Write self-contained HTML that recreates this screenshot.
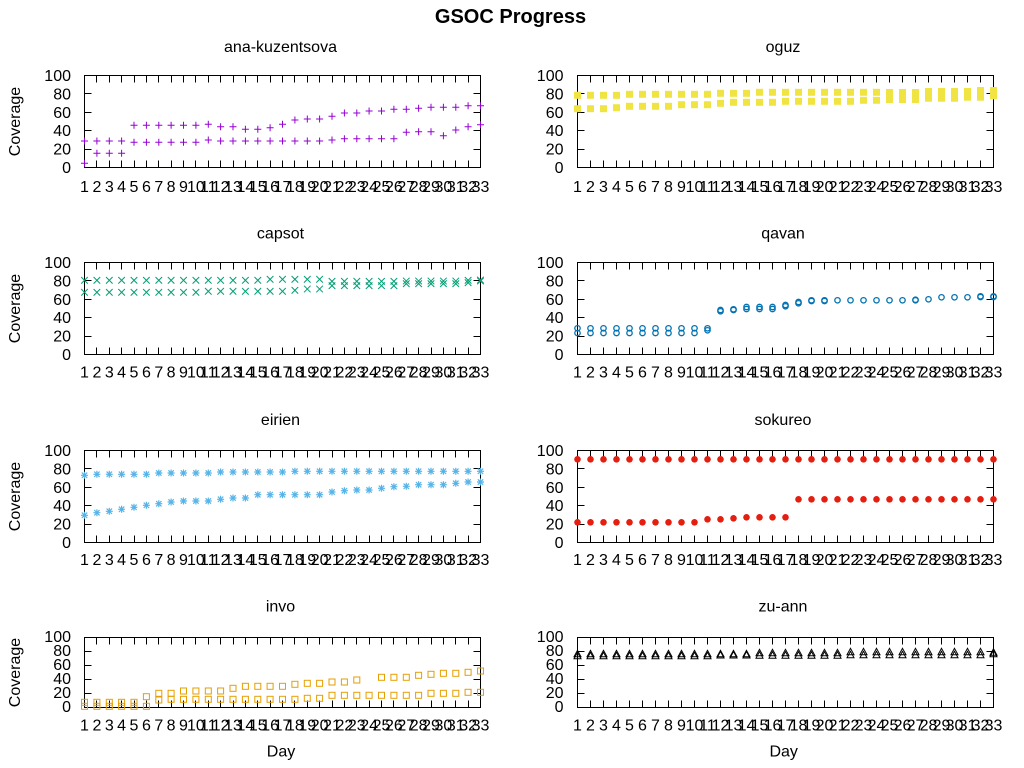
<!DOCTYPE html>
<html><head><meta charset="utf-8"><style>
html,body{margin:0;padding:0;background:#fff;}
svg{display:block;}
text{font-family:"Liberation Sans",sans-serif;font-size:16px;fill:#000;}
.xl text{text-anchor:middle;}
.yl text{text-anchor:end;}
.tt{text-anchor:middle;}
</style></head><body>
<svg width="1024" height="768" viewBox="0 0 1024 768" xmlns="http://www.w3.org/2000/svg">
<defs>
<path id="p" d="M-3.5 0H3.5M0-3.5V3.5"/>
<path id="x" d="M-3.3-3.3L3.3 3.3M-3.3 3.3L3.3-3.3"/>
<path id="s" d="M-3.5 0H3.5M0-3.5V3.5M-2.7-2.7L2.7 2.7M-2.7 2.7L2.7-2.7"/>
<rect id="q" x="-3.5" y="-3.5" width="7" height="7"/>
<circle id="c" r="2.7"/>
<circle id="f" r="3.3"/>
<rect id="b" x="-3" y="-3" width="6" height="6"/>
<path id="t" d="M0-4L3.5 2.5H-3.5Z"/>
</defs>
<rect width="1024" height="768" fill="#fff"/>
<text x="510.5" y="23" class="tt" style="font-weight:bold;font-size:20px">GSOC Progress</text>

<text x="280.5" y="52" class="tt">ana-kuzentsova</text>
<text x="783" y="52" class="tt">oguz</text>
<text x="280.5" y="238.5" class="tt">capsot</text>
<text x="783" y="238.5" class="tt">qavan</text>
<text x="280.5" y="425" class="tt">eirien</text>
<text x="783" y="425" class="tt">sokureo</text>
<text x="280.5" y="611.7" class="tt">invo</text>
<text x="783" y="611.7" class="tt">zu-ann</text>

<text transform="translate(20,121.5) rotate(-90)" class="tt">Coverage</text>
<text transform="translate(20,308.5) rotate(-90)" class="tt">Coverage</text>
<text transform="translate(20,496.5) rotate(-90)" class="tt">Coverage</text>
<text transform="translate(20,672.5) rotate(-90)" class="tt">Coverage</text>
<text x="281" y="756.5" class="tt">Day</text>
<text x="783.7" y="756.5" class="tt">Day</text>

<rect x="84.5" y="75.5" width="396" height="92" fill="none" stroke="#000" stroke-width="1"/>
<rect x="577.5" y="75.5" width="416" height="92" fill="none" stroke="#000" stroke-width="1"/>
<rect x="84.5" y="262.5" width="396" height="92" fill="none" stroke="#000" stroke-width="1"/>
<rect x="577.5" y="262.5" width="416" height="92" fill="none" stroke="#000" stroke-width="1"/>
<rect x="84.5" y="450.5" width="396" height="92" fill="none" stroke="#000" stroke-width="1"/>
<rect x="577.5" y="450.5" width="416" height="92" fill="none" stroke="#000" stroke-width="1"/>
<rect x="84.5" y="637.5" width="396" height="70" fill="none" stroke="#000" stroke-width="1"/>
<rect x="577.5" y="637.5" width="416" height="70" fill="none" stroke="#000" stroke-width="1"/>

<!-- left bottom ticks -->
<path fill="none" stroke="#000" stroke-width="1" d="M96.5 167.5v-7M109.5 167.5v-7M121.5 167.5v-7M134.5 167.5v-7M146.5 167.5v-7M158.5 167.5v-7M171.5 167.5v-7M183.5 167.5v-7M195.5 167.5v-7M208.5 167.5v-7M220.5 167.5v-7M233.5 167.5v-7M245.5 167.5v-7M257.5 167.5v-7M270.5 167.5v-7M282.5 167.5v-7M294.5 167.5v-7M307.5 167.5v-7M319.5 167.5v-7M332.5 167.5v-7M344.5 167.5v-7M356.5 167.5v-7M369.5 167.5v-7M381.5 167.5v-7M393.5 167.5v-7M406.5 167.5v-7M418.5 167.5v-7M431.5 167.5v-7M443.5 167.5v-7M455.5 167.5v-7M468.5 167.5v-7"/>
<path fill="none" stroke="#000" stroke-width="1" transform="translate(0,187)" d="M96.5 167.5v-7M109.5 167.5v-7M121.5 167.5v-7M134.5 167.5v-7M146.5 167.5v-7M158.5 167.5v-7M171.5 167.5v-7M183.5 167.5v-7M195.5 167.5v-7M208.5 167.5v-7M220.5 167.5v-7M233.5 167.5v-7M245.5 167.5v-7M257.5 167.5v-7M270.5 167.5v-7M282.5 167.5v-7M294.5 167.5v-7M307.5 167.5v-7M319.5 167.5v-7M332.5 167.5v-7M344.5 167.5v-7M356.5 167.5v-7M369.5 167.5v-7M381.5 167.5v-7M393.5 167.5v-7M406.5 167.5v-7M418.5 167.5v-7M431.5 167.5v-7M443.5 167.5v-7M455.5 167.5v-7M468.5 167.5v-7"/>
<path fill="none" stroke="#000" stroke-width="1" transform="translate(0,375)" d="M96.5 167.5v-7M109.5 167.5v-7M121.5 167.5v-7M134.5 167.5v-7M146.5 167.5v-7M158.5 167.5v-7M171.5 167.5v-7M183.5 167.5v-7M195.5 167.5v-7M208.5 167.5v-7M220.5 167.5v-7M233.5 167.5v-7M245.5 167.5v-7M257.5 167.5v-7M270.5 167.5v-7M282.5 167.5v-7M294.5 167.5v-7M307.5 167.5v-7M319.5 167.5v-7M332.5 167.5v-7M344.5 167.5v-7M356.5 167.5v-7M369.5 167.5v-7M381.5 167.5v-7M393.5 167.5v-7M406.5 167.5v-7M418.5 167.5v-7M431.5 167.5v-7M443.5 167.5v-7M455.5 167.5v-7M468.5 167.5v-7"/>
<path fill="none" stroke="#000" stroke-width="1" transform="translate(0,540)" d="M96.5 167.5v-7M109.5 167.5v-7M121.5 167.5v-7M134.5 167.5v-7M146.5 167.5v-7M158.5 167.5v-7M171.5 167.5v-7M183.5 167.5v-7M195.5 167.5v-7M208.5 167.5v-7M220.5 167.5v-7M233.5 167.5v-7M245.5 167.5v-7M257.5 167.5v-7M270.5 167.5v-7M282.5 167.5v-7M294.5 167.5v-7M307.5 167.5v-7M319.5 167.5v-7M332.5 167.5v-7M344.5 167.5v-7M356.5 167.5v-7M369.5 167.5v-7M381.5 167.5v-7M393.5 167.5v-7M406.5 167.5v-7M418.5 167.5v-7M431.5 167.5v-7M443.5 167.5v-7M455.5 167.5v-7M468.5 167.5v-7"/>
<!-- left top ticks -->
<path fill="none" stroke="#000" stroke-width="1" d="M96.5 75.5v7M109.5 75.5v7M121.5 75.5v7M134.5 75.5v7M146.5 75.5v7M158.5 75.5v7M171.5 75.5v7M183.5 75.5v7M195.5 75.5v7M208.5 75.5v7M220.5 75.5v7M233.5 75.5v7M245.5 75.5v7M257.5 75.5v7M270.5 75.5v7M282.5 75.5v7M294.5 75.5v7M307.5 75.5v7M319.5 75.5v7M332.5 75.5v7M344.5 75.5v7M356.5 75.5v7M369.5 75.5v7M381.5 75.5v7M393.5 75.5v7M406.5 75.5v7M418.5 75.5v7M431.5 75.5v7M443.5 75.5v7M455.5 75.5v7M468.5 75.5v7"/>
<path fill="none" stroke="#000" stroke-width="1" transform="translate(0,187)" d="M96.5 75.5v7M109.5 75.5v7M121.5 75.5v7M134.5 75.5v7M146.5 75.5v7M158.5 75.5v7M171.5 75.5v7M183.5 75.5v7M195.5 75.5v7M208.5 75.5v7M220.5 75.5v7M233.5 75.5v7M245.5 75.5v7M257.5 75.5v7M270.5 75.5v7M282.5 75.5v7M294.5 75.5v7M307.5 75.5v7M319.5 75.5v7M332.5 75.5v7M344.5 75.5v7M356.5 75.5v7M369.5 75.5v7M381.5 75.5v7M393.5 75.5v7M406.5 75.5v7M418.5 75.5v7M431.5 75.5v7M443.5 75.5v7M455.5 75.5v7M468.5 75.5v7"/>
<path fill="none" stroke="#000" stroke-width="1" transform="translate(0,375)" d="M96.5 75.5v7M109.5 75.5v7M121.5 75.5v7M134.5 75.5v7M146.5 75.5v7M158.5 75.5v7M171.5 75.5v7M183.5 75.5v7M195.5 75.5v7M208.5 75.5v7M220.5 75.5v7M233.5 75.5v7M245.5 75.5v7M257.5 75.5v7M270.5 75.5v7M282.5 75.5v7M294.5 75.5v7M307.5 75.5v7M319.5 75.5v7M332.5 75.5v7M344.5 75.5v7M356.5 75.5v7M369.5 75.5v7M381.5 75.5v7M393.5 75.5v7M406.5 75.5v7M418.5 75.5v7M431.5 75.5v7M443.5 75.5v7M455.5 75.5v7M468.5 75.5v7"/>
<path fill="none" stroke="#000" stroke-width="1" transform="translate(0,562)" d="M96.5 75.5v7M109.5 75.5v7M121.5 75.5v7M134.5 75.5v7M146.5 75.5v7M158.5 75.5v7M171.5 75.5v7M183.5 75.5v7M195.5 75.5v7M208.5 75.5v7M220.5 75.5v7M233.5 75.5v7M245.5 75.5v7M257.5 75.5v7M270.5 75.5v7M282.5 75.5v7M294.5 75.5v7M307.5 75.5v7M319.5 75.5v7M332.5 75.5v7M344.5 75.5v7M356.5 75.5v7M369.5 75.5v7M381.5 75.5v7M393.5 75.5v7M406.5 75.5v7M418.5 75.5v7M431.5 75.5v7M443.5 75.5v7M455.5 75.5v7M468.5 75.5v7"/>
<!-- right bottom ticks -->
<path fill="none" stroke="#000" stroke-width="1" d="M590.5 167.5v-7m13 7v-7m13 7v-7m13 7v-7m13 7v-7m13 7v-7m13 7v-7m13 7v-7m13 7v-7m13 7v-7m13 7v-7m13 7v-7m13 7v-7m13 7v-7m13 7v-7m13 7v-7m13 7v-7m13 7v-7m13 7v-7m13 7v-7m13 7v-7m13 7v-7m13 7v-7m13 7v-7m13 7v-7m13 7v-7m13 7v-7m13 7v-7m13 7v-7m13 7v-7m13 7v-7"/>
<path fill="none" stroke="#000" stroke-width="1" transform="translate(0,187)" d="M590.5 167.5v-7m13 7v-7m13 7v-7m13 7v-7m13 7v-7m13 7v-7m13 7v-7m13 7v-7m13 7v-7m13 7v-7m13 7v-7m13 7v-7m13 7v-7m13 7v-7m13 7v-7m13 7v-7m13 7v-7m13 7v-7m13 7v-7m13 7v-7m13 7v-7m13 7v-7m13 7v-7m13 7v-7m13 7v-7m13 7v-7m13 7v-7m13 7v-7m13 7v-7m13 7v-7m13 7v-7"/>
<path fill="none" stroke="#000" stroke-width="1" transform="translate(0,375)" d="M590.5 167.5v-7m13 7v-7m13 7v-7m13 7v-7m13 7v-7m13 7v-7m13 7v-7m13 7v-7m13 7v-7m13 7v-7m13 7v-7m13 7v-7m13 7v-7m13 7v-7m13 7v-7m13 7v-7m13 7v-7m13 7v-7m13 7v-7m13 7v-7m13 7v-7m13 7v-7m13 7v-7m13 7v-7m13 7v-7m13 7v-7m13 7v-7m13 7v-7m13 7v-7m13 7v-7m13 7v-7"/>
<path fill="none" stroke="#000" stroke-width="1" transform="translate(0,540)" d="M590.5 167.5v-7m13 7v-7m13 7v-7m13 7v-7m13 7v-7m13 7v-7m13 7v-7m13 7v-7m13 7v-7m13 7v-7m13 7v-7m13 7v-7m13 7v-7m13 7v-7m13 7v-7m13 7v-7m13 7v-7m13 7v-7m13 7v-7m13 7v-7m13 7v-7m13 7v-7m13 7v-7m13 7v-7m13 7v-7m13 7v-7m13 7v-7m13 7v-7m13 7v-7m13 7v-7m13 7v-7"/>
<!-- right top ticks -->
<path fill="none" stroke="#000" stroke-width="1" d="M590.5 75.5v7m13-7v7m13-7v7m13-7v7m13-7v7m13-7v7m13-7v7m13-7v7m13-7v7m13-7v7m13-7v7m13-7v7m13-7v7m13-7v7m13-7v7m13-7v7m13-7v7m13-7v7m13-7v7m13-7v7m13-7v7m13-7v7m13-7v7m13-7v7m13-7v7m13-7v7m13-7v7m13-7v7m13-7v7m13-7v7m13-7v7"/>
<path fill="none" stroke="#000" stroke-width="1" transform="translate(0,187)" d="M590.5 75.5v7m13-7v7m13-7v7m13-7v7m13-7v7m13-7v7m13-7v7m13-7v7m13-7v7m13-7v7m13-7v7m13-7v7m13-7v7m13-7v7m13-7v7m13-7v7m13-7v7m13-7v7m13-7v7m13-7v7m13-7v7m13-7v7m13-7v7m13-7v7m13-7v7m13-7v7m13-7v7m13-7v7m13-7v7m13-7v7m13-7v7"/>
<path fill="none" stroke="#000" stroke-width="1" transform="translate(0,375)" d="M590.5 75.5v7m13-7v7m13-7v7m13-7v7m13-7v7m13-7v7m13-7v7m13-7v7m13-7v7m13-7v7m13-7v7m13-7v7m13-7v7m13-7v7m13-7v7m13-7v7m13-7v7m13-7v7m13-7v7m13-7v7m13-7v7m13-7v7m13-7v7m13-7v7m13-7v7m13-7v7m13-7v7m13-7v7m13-7v7m13-7v7m13-7v7"/>
<path fill="none" stroke="#000" stroke-width="1" transform="translate(0,562)" d="M590.5 75.5v7m13-7v7m13-7v7m13-7v7m13-7v7m13-7v7m13-7v7m13-7v7m13-7v7m13-7v7m13-7v7m13-7v7m13-7v7m13-7v7m13-7v7m13-7v7m13-7v7m13-7v7m13-7v7m13-7v7m13-7v7m13-7v7m13-7v7m13-7v7m13-7v7m13-7v7m13-7v7m13-7v7m13-7v7m13-7v7m13-7v7"/>
<!-- y ticks -->
<path fill="none" stroke="#000" stroke-width="1" d="M84.5 149.5h7M84.5 130.5h7M84.5 112.5h7M84.5 93.5h7M480.5 149.5h-7M480.5 130.5h-7M480.5 112.5h-7M480.5 93.5h-7M577.5 149.5h7M577.5 130.5h7M577.5 112.5h7M577.5 93.5h7M993.5 149.5h-7M993.5 130.5h-7M993.5 112.5h-7M993.5 93.5h-7"/>
<path fill="none" stroke="#000" stroke-width="1" transform="translate(0,187)" d="M84.5 149.5h7M84.5 130.5h7M84.5 112.5h7M84.5 93.5h7M480.5 149.5h-7M480.5 130.5h-7M480.5 112.5h-7M480.5 93.5h-7M577.5 149.5h7M577.5 130.5h7M577.5 112.5h7M577.5 93.5h7M993.5 149.5h-7M993.5 130.5h-7M993.5 112.5h-7M993.5 93.5h-7"/>
<path fill="none" stroke="#000" stroke-width="1" transform="translate(0,375)" d="M84.5 149.5h7M84.5 130.5h7M84.5 112.5h7M84.5 93.5h7M480.5 149.5h-7M480.5 130.5h-7M480.5 112.5h-7M480.5 93.5h-7M577.5 149.5h7M577.5 130.5h7M577.5 112.5h7M577.5 93.5h7M993.5 149.5h-7M993.5 130.5h-7M993.5 112.5h-7M993.5 93.5h-7"/>
<path fill="none" stroke="#000" stroke-width="1" d="M84.5 693.5h7M84.5 679.5h7M84.5 665.5h7M84.5 651.5h7M480.5 693.5h-7M480.5 679.5h-7M480.5 665.5h-7M480.5 651.5h-7M577.5 693.5h7M577.5 679.5h7M577.5 665.5h7M577.5 651.5h7M993.5 693.5h-7M993.5 679.5h-7M993.5 665.5h-7M993.5 651.5h-7"/>

<g class="yl">
<text x="71" y="173">0</text><text x="71" y="154.6">20</text><text x="71" y="136.2">40</text><text x="71" y="117.8">60</text><text x="71" y="99.4">80</text><text x="71" y="81">100</text>
<text x="563.5" y="173">0</text><text x="563.5" y="154.6">20</text><text x="563.5" y="136.2">40</text><text x="563.5" y="117.8">60</text><text x="563.5" y="99.4">80</text><text x="563.5" y="81">100</text>
<text x="71" y="360">0</text><text x="71" y="341.6">20</text><text x="71" y="323.2">40</text><text x="71" y="304.8">60</text><text x="71" y="286.4">80</text><text x="71" y="268">100</text>
<text x="563.5" y="360">0</text><text x="563.5" y="341.6">20</text><text x="563.5" y="323.2">40</text><text x="563.5" y="304.8">60</text><text x="563.5" y="286.4">80</text><text x="563.5" y="268">100</text>
<text x="71" y="548">0</text><text x="71" y="529.6">20</text><text x="71" y="511.2">40</text><text x="71" y="492.8">60</text><text x="71" y="474.4">80</text><text x="71" y="456">100</text>
<text x="563.5" y="548">0</text><text x="563.5" y="529.6">20</text><text x="563.5" y="511.2">40</text><text x="563.5" y="492.8">60</text><text x="563.5" y="474.4">80</text><text x="563.5" y="456">100</text>
<text x="71" y="712">0</text><text x="71" y="698">20</text><text x="71" y="684">40</text><text x="71" y="670">60</text><text x="71" y="656">80</text><text x="71" y="642">100</text>
<text x="563.5" y="712">0</text><text x="563.5" y="698">20</text><text x="563.5" y="684">40</text><text x="563.5" y="670">60</text><text x="563.5" y="656">80</text><text x="563.5" y="642">100</text>
</g>

<g class="xl">
<g transform="translate(0,192)">
<text x="84.5">1</text><text x="96.9">2</text><text x="109.3">3</text><text x="121.6">4</text><text x="134">5</text><text x="146.4">6</text><text x="158.8">7</text><text x="171.1">8</text><text x="183.5">9</text><text x="195.9">10</text><text x="208.3">11</text><text x="220.6">12</text><text x="233">13</text><text x="245.4">14</text><text x="257.8">15</text><text x="270.1">16</text><text x="282.5">17</text><text x="294.9">18</text><text x="307.3">19</text><text x="319.6">20</text><text x="332">21</text><text x="344.4">22</text><text x="356.8">23</text><text x="369.1">24</text><text x="381.5">25</text><text x="393.9">26</text><text x="406.3">27</text><text x="418.6">28</text><text x="431">29</text><text x="443.4">30</text><text x="455.8">31</text><text x="468.1">32</text><text x="480.5">33</text>
<text x="577.5">1</text><text x="590.5">2</text><text x="603.5">3</text><text x="616.5">4</text><text x="629.5">5</text><text x="642.5">6</text><text x="655.5">7</text><text x="668.5">8</text><text x="681.5">9</text><text x="694.5">10</text><text x="707.5">11</text><text x="720.5">12</text><text x="733.5">13</text><text x="746.5">14</text><text x="759.5">15</text><text x="772.5">16</text><text x="785.5">17</text><text x="798.5">18</text><text x="811.5">19</text><text x="824.5">20</text><text x="837.5">21</text><text x="850.5">22</text><text x="863.5">23</text><text x="876.5">24</text><text x="889.5">25</text><text x="902.5">26</text><text x="915.5">27</text><text x="928.5">28</text><text x="941.5">29</text><text x="954.5">30</text><text x="967.5">31</text><text x="980.5">32</text><text x="993.5">33</text>
</g>
<g transform="translate(0,377.5)">
<text x="84.5">1</text><text x="96.9">2</text><text x="109.3">3</text><text x="121.6">4</text><text x="134">5</text><text x="146.4">6</text><text x="158.8">7</text><text x="171.1">8</text><text x="183.5">9</text><text x="195.9">10</text><text x="208.3">11</text><text x="220.6">12</text><text x="233">13</text><text x="245.4">14</text><text x="257.8">15</text><text x="270.1">16</text><text x="282.5">17</text><text x="294.9">18</text><text x="307.3">19</text><text x="319.6">20</text><text x="332">21</text><text x="344.4">22</text><text x="356.8">23</text><text x="369.1">24</text><text x="381.5">25</text><text x="393.9">26</text><text x="406.3">27</text><text x="418.6">28</text><text x="431">29</text><text x="443.4">30</text><text x="455.8">31</text><text x="468.1">32</text><text x="480.5">33</text>
<text x="577.5">1</text><text x="590.5">2</text><text x="603.5">3</text><text x="616.5">4</text><text x="629.5">5</text><text x="642.5">6</text><text x="655.5">7</text><text x="668.5">8</text><text x="681.5">9</text><text x="694.5">10</text><text x="707.5">11</text><text x="720.5">12</text><text x="733.5">13</text><text x="746.5">14</text><text x="759.5">15</text><text x="772.5">16</text><text x="785.5">17</text><text x="798.5">18</text><text x="811.5">19</text><text x="824.5">20</text><text x="837.5">21</text><text x="850.5">22</text><text x="863.5">23</text><text x="876.5">24</text><text x="889.5">25</text><text x="902.5">26</text><text x="915.5">27</text><text x="928.5">28</text><text x="941.5">29</text><text x="954.5">30</text><text x="967.5">31</text><text x="980.5">32</text><text x="993.5">33</text>
</g>
<g transform="translate(0,565)">
<text x="84.5">1</text><text x="96.9">2</text><text x="109.3">3</text><text x="121.6">4</text><text x="134">5</text><text x="146.4">6</text><text x="158.8">7</text><text x="171.1">8</text><text x="183.5">9</text><text x="195.9">10</text><text x="208.3">11</text><text x="220.6">12</text><text x="233">13</text><text x="245.4">14</text><text x="257.8">15</text><text x="270.1">16</text><text x="282.5">17</text><text x="294.9">18</text><text x="307.3">19</text><text x="319.6">20</text><text x="332">21</text><text x="344.4">22</text><text x="356.8">23</text><text x="369.1">24</text><text x="381.5">25</text><text x="393.9">26</text><text x="406.3">27</text><text x="418.6">28</text><text x="431">29</text><text x="443.4">30</text><text x="455.8">31</text><text x="468.1">32</text><text x="480.5">33</text>
<text x="577.5">1</text><text x="590.5">2</text><text x="603.5">3</text><text x="616.5">4</text><text x="629.5">5</text><text x="642.5">6</text><text x="655.5">7</text><text x="668.5">8</text><text x="681.5">9</text><text x="694.5">10</text><text x="707.5">11</text><text x="720.5">12</text><text x="733.5">13</text><text x="746.5">14</text><text x="759.5">15</text><text x="772.5">16</text><text x="785.5">17</text><text x="798.5">18</text><text x="811.5">19</text><text x="824.5">20</text><text x="837.5">21</text><text x="850.5">22</text><text x="863.5">23</text><text x="876.5">24</text><text x="889.5">25</text><text x="902.5">26</text><text x="915.5">27</text><text x="928.5">28</text><text x="941.5">29</text><text x="954.5">30</text><text x="967.5">31</text><text x="980.5">32</text><text x="993.5">33</text>
</g>
<g transform="translate(0,730.5)">
<text x="84.5">1</text><text x="96.9">2</text><text x="109.3">3</text><text x="121.6">4</text><text x="134">5</text><text x="146.4">6</text><text x="158.8">7</text><text x="171.1">8</text><text x="183.5">9</text><text x="195.9">10</text><text x="208.3">11</text><text x="220.6">12</text><text x="233">13</text><text x="245.4">14</text><text x="257.8">15</text><text x="270.1">16</text><text x="282.5">17</text><text x="294.9">18</text><text x="307.3">19</text><text x="319.6">20</text><text x="332">21</text><text x="344.4">22</text><text x="356.8">23</text><text x="369.1">24</text><text x="381.5">25</text><text x="393.9">26</text><text x="406.3">27</text><text x="418.6">28</text><text x="431">29</text><text x="443.4">30</text><text x="455.8">31</text><text x="468.1">32</text><text x="480.5">33</text>
<text x="577.5">1</text><text x="590.5">2</text><text x="603.5">3</text><text x="616.5">4</text><text x="629.5">5</text><text x="642.5">6</text><text x="655.5">7</text><text x="668.5">8</text><text x="681.5">9</text><text x="694.5">10</text><text x="707.5">11</text><text x="720.5">12</text><text x="733.5">13</text><text x="746.5">14</text><text x="759.5">15</text><text x="772.5">16</text><text x="785.5">17</text><text x="798.5">18</text><text x="811.5">19</text><text x="824.5">20</text><text x="837.5">21</text><text x="850.5">22</text><text x="863.5">23</text><text x="876.5">24</text><text x="889.5">25</text><text x="902.5">26</text><text x="915.5">27</text><text x="928.5">28</text><text x="941.5">29</text><text x="954.5">30</text><text x="967.5">31</text><text x="980.5">32</text><text x="993.5">33</text>
</g>
</g>

<!-- Panel 1: ana-kuzentsova -->
<g stroke="#9400d3" fill="none" stroke-width="1">
<use href="#p" x="84.5" y="141"/><use href="#p" x="96.9" y="141"/><use href="#p" x="109.3" y="141"/><use href="#p" x="121.6" y="141"/><use href="#p" x="134" y="125.3"/><use href="#p" x="146.4" y="125.3"/><use href="#p" x="158.8" y="125.3"/><use href="#p" x="171.1" y="125.3"/><use href="#p" x="183.5" y="125.3"/><use href="#p" x="195.9" y="125.3"/><use href="#p" x="208.3" y="124.3"/><use href="#p" x="220.6" y="126.7"/><use href="#p" x="233" y="126.7"/><use href="#p" x="245.4" y="129.3"/><use href="#p" x="257.8" y="129.3"/><use href="#p" x="270.1" y="127.7"/><use href="#p" x="282.5" y="124.3"/><use href="#p" x="294.9" y="120"/><use href="#p" x="307.3" y="119"/><use href="#p" x="319.6" y="119"/><use href="#p" x="332" y="116.3"/><use href="#p" x="344.4" y="113"/><use href="#p" x="356.8" y="113"/><use href="#p" x="369.1" y="111"/><use href="#p" x="381.5" y="111"/><use href="#p" x="393.9" y="109.3"/><use href="#p" x="406.3" y="109.3"/><use href="#p" x="418.6" y="108.3"/><use href="#p" x="431" y="107.3"/><use href="#p" x="443.4" y="107.3"/><use href="#p" x="455.8" y="107.3"/><use href="#p" x="468.1" y="105.7"/><use href="#p" x="480.5" y="105.7"/>
<use href="#p" x="84.5" y="163.3"/><use href="#p" x="96.9" y="153.3"/><use href="#p" x="109.3" y="153.3"/><use href="#p" x="121.6" y="153.3"/><use href="#p" x="134" y="142.3"/><use href="#p" x="146.4" y="142.3"/><use href="#p" x="158.8" y="142.3"/><use href="#p" x="171.1" y="142.3"/><use href="#p" x="183.5" y="142.3"/><use href="#p" x="195.9" y="142.3"/><use href="#p" x="208.3" y="140"/><use href="#p" x="220.6" y="141"/><use href="#p" x="233" y="141"/><use href="#p" x="245.4" y="141"/><use href="#p" x="257.8" y="141"/><use href="#p" x="270.1" y="141"/><use href="#p" x="282.5" y="141"/><use href="#p" x="294.9" y="141"/><use href="#p" x="307.3" y="141"/><use href="#p" x="319.6" y="141"/><use href="#p" x="332" y="140"/><use href="#p" x="344.4" y="138.7"/><use href="#p" x="356.8" y="138.7"/><use href="#p" x="369.1" y="138.7"/><use href="#p" x="381.5" y="138.7"/><use href="#p" x="393.9" y="138.7"/><use href="#p" x="406.3" y="132.3"/><use href="#p" x="418.6" y="131.7"/><use href="#p" x="431" y="131.7"/><use href="#p" x="443.4" y="135.7"/><use href="#p" x="455.8" y="130"/><use href="#p" x="468.1" y="126.7"/><use href="#p" x="480.5" y="124.7"/>
</g>

<!-- Panel 2: oguz -->
<g fill="#f0e442" stroke="none">
<use href="#q" x="577.5" y="95.3"/><use href="#q" x="590.5" y="95.3"/><use href="#q" x="603.5" y="95.3"/><use href="#q" x="616.5" y="95.3"/><use href="#q" x="629.5" y="94.3"/><use href="#q" x="642.5" y="94.3"/><use href="#q" x="655.5" y="94.3"/><use href="#q" x="668.5" y="94.3"/><use href="#q" x="681.5" y="94.3"/><use href="#q" x="694.5" y="94.3"/><use href="#q" x="707.5" y="94.3"/><use href="#q" x="720.5" y="93.3"/><use href="#q" x="733.5" y="93.3"/><use href="#q" x="746.5" y="93.3"/><use href="#q" x="759.5" y="92.3"/><use href="#q" x="772.5" y="92.3"/><use href="#q" x="785.5" y="92.3"/><use href="#q" x="798.5" y="92.3"/><use href="#q" x="811.5" y="92.3"/><use href="#q" x="824.5" y="92.3"/><use href="#q" x="837.5" y="92.3"/><use href="#q" x="850.5" y="92.3"/><use href="#q" x="863.5" y="92.3"/><use href="#q" x="876.5" y="92.3"/>
<use href="#q" x="577.5" y="108.7"/><use href="#q" x="590.5" y="108.7"/><use href="#q" x="603.5" y="108.7"/><use href="#q" x="616.5" y="107.7"/><use href="#q" x="629.5" y="106.3"/><use href="#q" x="642.5" y="106.3"/><use href="#q" x="655.5" y="106.3"/><use href="#q" x="668.5" y="106.3"/><use href="#q" x="681.5" y="104.7"/><use href="#q" x="694.5" y="104.7"/><use href="#q" x="707.5" y="104.7"/><use href="#q" x="720.5" y="103.3"/><use href="#q" x="733.5" y="102.3"/><use href="#q" x="746.5" y="102.3"/><use href="#q" x="759.5" y="102.3"/><use href="#q" x="772.5" y="102.3"/><use href="#q" x="785.5" y="101.3"/><use href="#q" x="798.5" y="101.3"/><use href="#q" x="811.5" y="101.3"/><use href="#q" x="824.5" y="101.3"/><use href="#q" x="837.5" y="101.3"/><use href="#q" x="850.5" y="101.3"/><use href="#q" x="863.5" y="100.3"/><use href="#q" x="876.5" y="100.3"/>
<rect x="886" y="89" width="7" height="14"/><rect x="899" y="89" width="7" height="14"/><rect x="912" y="89" width="7" height="14"/>
<rect x="925" y="88" width="7" height="13.7"/><rect x="938" y="88" width="7" height="13.7"/><rect x="951" y="88" width="7" height="13.7"/><rect x="964" y="88" width="7" height="12.7"/>
<rect x="977" y="87" width="7" height="13.7"/><rect x="990" y="87" width="7" height="12.3"/>
</g>

<!-- Panel 3: capsot -->
<g stroke="#009e73" fill="none" stroke-width="1">
<use href="#x" x="84.5" y="280.3"/><use href="#x" x="96.9" y="280.3"/><use href="#x" x="109.3" y="280.3"/><use href="#x" x="121.6" y="280.3"/><use href="#x" x="134" y="280.3"/><use href="#x" x="146.4" y="280.3"/><use href="#x" x="158.8" y="280.3"/><use href="#x" x="171.1" y="280.3"/><use href="#x" x="183.5" y="280.3"/><use href="#x" x="195.9" y="280.3"/><use href="#x" x="208.3" y="280.3"/><use href="#x" x="220.6" y="280.3"/><use href="#x" x="233" y="280.3"/><use href="#x" x="245.4" y="280.3"/><use href="#x" x="257.8" y="280.3"/><use href="#x" x="270.1" y="279.3"/><use href="#x" x="282.5" y="279.3"/><use href="#x" x="294.9" y="279.3"/><use href="#x" x="307.3" y="279.3"/><use href="#x" x="319.6" y="279.3"/><use href="#x" x="332" y="281.3"/><use href="#x" x="344.4" y="281.3"/><use href="#x" x="356.8" y="281.3"/><use href="#x" x="369.1" y="281.3"/><use href="#x" x="381.5" y="281.3"/><use href="#x" x="393.9" y="281.3"/><use href="#x" x="406.3" y="281"/><use href="#x" x="418.6" y="281"/><use href="#x" x="431" y="281"/><use href="#x" x="443.4" y="281"/><use href="#x" x="455.8" y="281"/><use href="#x" x="468.1" y="280.3"/><use href="#x" x="480.5" y="280"/>
<use href="#x" x="84.5" y="292.3"/><use href="#x" x="96.9" y="292.3"/><use href="#x" x="109.3" y="292.3"/><use href="#x" x="121.6" y="292.3"/><use href="#x" x="134" y="292.3"/><use href="#x" x="146.4" y="292.3"/><use href="#x" x="158.8" y="292.3"/><use href="#x" x="171.1" y="292.3"/><use href="#x" x="183.5" y="292.3"/><use href="#x" x="195.9" y="292.3"/><use href="#x" x="208.3" y="291.3"/><use href="#x" x="220.6" y="291.3"/><use href="#x" x="233" y="291.3"/><use href="#x" x="245.4" y="291.3"/><use href="#x" x="257.8" y="291.3"/><use href="#x" x="270.1" y="291.3"/><use href="#x" x="282.5" y="291.3"/><use href="#x" x="294.9" y="290.3"/><use href="#x" x="307.3" y="289"/><use href="#x" x="319.6" y="289"/><use href="#x" x="332" y="285.7"/><use href="#x" x="344.4" y="285.7"/><use href="#x" x="356.8" y="285.7"/><use href="#x" x="369.1" y="285.7"/><use href="#x" x="381.5" y="285.7"/><use href="#x" x="393.9" y="285.7"/><use href="#x" x="406.3" y="283.7"/><use href="#x" x="418.6" y="283.7"/><use href="#x" x="431" y="283.7"/><use href="#x" x="443.4" y="283.7"/><use href="#x" x="455.8" y="283.7"/><use href="#x" x="468.1" y="282.7"/><use href="#x" x="480.5" y="281"/>
</g>

<!-- Panel 4: qavan -->
<g stroke="#0072b2" fill="none" stroke-width="1.3">
<use href="#c" x="577.5" y="328.3"/><use href="#c" x="590.5" y="328.3"/><use href="#c" x="603.5" y="328.3"/><use href="#c" x="616.5" y="328.3"/><use href="#c" x="629.5" y="328.3"/><use href="#c" x="642.5" y="328.3"/><use href="#c" x="655.5" y="328.3"/><use href="#c" x="668.5" y="328.3"/><use href="#c" x="681.5" y="328.3"/><use href="#c" x="694.5" y="328.3"/><use href="#c" x="707.5" y="328.3"/>
<use href="#c" x="577.5" y="333"/><use href="#c" x="590.5" y="333"/><use href="#c" x="603.5" y="333"/><use href="#c" x="616.5" y="333"/><use href="#c" x="629.5" y="333"/><use href="#c" x="642.5" y="333"/><use href="#c" x="655.5" y="333"/><use href="#c" x="668.5" y="333"/><use href="#c" x="681.5" y="333"/><use href="#c" x="694.5" y="333"/><use href="#c" x="707.5" y="330.3"/>
<use href="#c" x="720.5" y="310"/><use href="#c" x="720.5" y="311.3"/><use href="#c" x="733.5" y="309.3"/><use href="#c" x="733.5" y="310"/><use href="#c" x="746.5" y="307"/><use href="#c" x="746.5" y="309"/><use href="#c" x="759.5" y="307"/><use href="#c" x="759.5" y="309"/><use href="#c" x="772.5" y="307"/><use href="#c" x="772.5" y="309"/><use href="#c" x="785.5" y="305"/><use href="#c" x="785.5" y="306.3"/><use href="#c" x="798.5" y="302"/><use href="#c" x="798.5" y="303.3"/><use href="#c" x="811.5" y="300.3"/><use href="#c" x="811.5" y="301"/><use href="#c" x="824.5" y="300.3"/><use href="#c" x="824.5" y="301"/>
<use href="#c" x="837.5" y="300.3"/><use href="#c" x="850.5" y="300.3"/><use href="#c" x="863.5" y="300.3"/><use href="#c" x="876.5" y="300.3"/><use href="#c" x="889.5" y="300.3"/><use href="#c" x="902.5" y="300.3"/><use href="#c" x="915.5" y="299.7"/><use href="#c" x="915.5" y="300.3"/><use href="#c" x="928.5" y="299.3"/><use href="#c" x="941.5" y="297.3"/><use href="#c" x="954.5" y="297.3"/><use href="#c" x="967.5" y="297.3"/><use href="#c" x="980.5" y="296.3"/><use href="#c" x="980.5" y="297"/><use href="#c" x="993.5" y="296.3"/><use href="#c" x="993.5" y="297"/>
</g>

<!-- Panel 5: eirien -->
<g stroke="#56b4e9" fill="none" stroke-width="1.2">
<use href="#s" x="84.5" y="475.3"/><use href="#s" x="96.9" y="474.3"/><use href="#s" x="109.3" y="474.3"/><use href="#s" x="121.6" y="474.3"/><use href="#s" x="134" y="474.3"/><use href="#s" x="146.4" y="474.3"/><use href="#s" x="158.8" y="473"/><use href="#s" x="171.1" y="473"/><use href="#s" x="183.5" y="473"/><use href="#s" x="195.9" y="473"/><use href="#s" x="208.3" y="473"/><use href="#s" x="220.6" y="472"/><use href="#s" x="233" y="472"/><use href="#s" x="245.4" y="472"/><use href="#s" x="257.8" y="472"/><use href="#s" x="270.1" y="472"/><use href="#s" x="282.5" y="472"/><use href="#s" x="294.9" y="471.3"/><use href="#s" x="307.3" y="471.3"/><use href="#s" x="319.6" y="471.3"/><use href="#s" x="332" y="471.3"/><use href="#s" x="344.4" y="471.3"/><use href="#s" x="356.8" y="471.3"/><use href="#s" x="369.1" y="471.3"/><use href="#s" x="381.5" y="471.3"/><use href="#s" x="393.9" y="471.3"/><use href="#s" x="406.3" y="471.3"/><use href="#s" x="418.6" y="471.3"/><use href="#s" x="431" y="471.3"/><use href="#s" x="443.4" y="471.3"/><use href="#s" x="455.8" y="471.3"/><use href="#s" x="468.1" y="471.3"/><use href="#s" x="480.5" y="471.3"/>
<use href="#s" x="84.5" y="515.3"/><use href="#s" x="96.9" y="512.7"/><use href="#s" x="109.3" y="511.3"/><use href="#s" x="121.6" y="509.3"/><use href="#s" x="134" y="507.3"/><use href="#s" x="146.4" y="505.3"/><use href="#s" x="158.8" y="503.7"/><use href="#s" x="171.1" y="502"/><use href="#s" x="183.5" y="501"/><use href="#s" x="195.9" y="501"/><use href="#s" x="208.3" y="501"/><use href="#s" x="220.6" y="499.3"/><use href="#s" x="233" y="498"/><use href="#s" x="245.4" y="498"/><use href="#s" x="257.8" y="494.7"/><use href="#s" x="270.1" y="494.7"/><use href="#s" x="282.5" y="494.7"/><use href="#s" x="294.9" y="494.7"/><use href="#s" x="307.3" y="494.7"/><use href="#s" x="319.6" y="494.7"/><use href="#s" x="332" y="492"/><use href="#s" x="344.4" y="490.7"/><use href="#s" x="356.8" y="490"/><use href="#s" x="369.1" y="490"/><use href="#s" x="381.5" y="488.3"/><use href="#s" x="393.9" y="486.7"/><use href="#s" x="406.3" y="486.3"/><use href="#s" x="418.6" y="484.7"/><use href="#s" x="431" y="484.7"/><use href="#s" x="443.4" y="484.7"/><use href="#s" x="455.8" y="483.3"/><use href="#s" x="468.1" y="482"/><use href="#s" x="480.5" y="482"/>
</g>

<!-- Panel 6: sokureo -->
<g fill="#e51e10" stroke="none">
<use href="#f" x="577.5" y="459.3"/><use href="#f" x="590.5" y="459.3"/><use href="#f" x="603.5" y="459.3"/><use href="#f" x="616.5" y="459.3"/><use href="#f" x="629.5" y="459.3"/><use href="#f" x="642.5" y="459.3"/><use href="#f" x="655.5" y="459.3"/><use href="#f" x="668.5" y="459.3"/><use href="#f" x="681.5" y="459.3"/><use href="#f" x="694.5" y="459.3"/><use href="#f" x="707.5" y="459.3"/><use href="#f" x="720.5" y="459.3"/><use href="#f" x="733.5" y="459.3"/><use href="#f" x="746.5" y="459.3"/><use href="#f" x="759.5" y="459.3"/><use href="#f" x="772.5" y="459.3"/><use href="#f" x="785.5" y="459.3"/><use href="#f" x="798.5" y="459.3"/><use href="#f" x="811.5" y="459.3"/><use href="#f" x="824.5" y="459.3"/><use href="#f" x="837.5" y="459.3"/><use href="#f" x="850.5" y="459.3"/><use href="#f" x="863.5" y="459.3"/><use href="#f" x="876.5" y="459.3"/><use href="#f" x="889.5" y="459.3"/><use href="#f" x="902.5" y="459.3"/><use href="#f" x="915.5" y="459.3"/><use href="#f" x="928.5" y="459.3"/><use href="#f" x="941.5" y="459.3"/><use href="#f" x="954.5" y="459.3"/><use href="#f" x="967.5" y="459.3"/><use href="#f" x="980.5" y="459.3"/><use href="#f" x="993.5" y="459.3"/>
<use href="#f" x="577.5" y="522.3"/><use href="#f" x="590.5" y="522.3"/><use href="#f" x="603.5" y="522.3"/><use href="#f" x="616.5" y="522.3"/><use href="#f" x="629.5" y="522.3"/><use href="#f" x="642.5" y="522.3"/><use href="#f" x="655.5" y="522.3"/><use href="#f" x="668.5" y="522.3"/><use href="#f" x="681.5" y="522.3"/><use href="#f" x="694.5" y="522.3"/><use href="#f" x="707.5" y="519.3"/><use href="#f" x="720.5" y="519.3"/><use href="#f" x="733.5" y="518.3"/><use href="#f" x="746.5" y="517.3"/><use href="#f" x="759.5" y="517.3"/><use href="#f" x="772.5" y="517.3"/><use href="#f" x="785.5" y="517.3"/><use href="#f" x="798.5" y="499.3"/><use href="#f" x="811.5" y="499.3"/><use href="#f" x="824.5" y="499.3"/><use href="#f" x="837.5" y="499.3"/><use href="#f" x="850.5" y="499.3"/><use href="#f" x="863.5" y="499.3"/><use href="#f" x="876.5" y="499.3"/><use href="#f" x="889.5" y="499.3"/><use href="#f" x="902.5" y="499.3"/><use href="#f" x="915.5" y="499.3"/><use href="#f" x="928.5" y="499.3"/><use href="#f" x="941.5" y="499.3"/><use href="#f" x="954.5" y="499.3"/><use href="#f" x="967.5" y="499.3"/><use href="#f" x="980.5" y="499.3"/><use href="#f" x="993.5" y="499.3"/>
</g>

<!-- Panel 7: invo -->
<g stroke="#e69f00" fill="none" stroke-width="1">
<use href="#b" x="84.5" y="702.3"/><use href="#b" x="96.9" y="702.3"/><use href="#b" x="109.3" y="702.3"/><use href="#b" x="121.6" y="702.3"/><use href="#b" x="134" y="702.3"/><use href="#b" x="146.4" y="696.7"/><use href="#b" x="158.8" y="693.3"/><use href="#b" x="171.1" y="693.3"/><use href="#b" x="183.5" y="691"/><use href="#b" x="195.9" y="691"/><use href="#b" x="208.3" y="691"/><use href="#b" x="220.6" y="691"/><use href="#b" x="233" y="688.3"/><use href="#b" x="245.4" y="686.3"/><use href="#b" x="257.8" y="686.3"/><use href="#b" x="270.1" y="686.3"/><use href="#b" x="282.5" y="686.3"/><use href="#b" x="294.9" y="684.3"/><use href="#b" x="307.3" y="683.3"/><use href="#b" x="319.6" y="683.3"/><use href="#b" x="332" y="682"/><use href="#b" x="344.4" y="682"/><use href="#b" x="356.8" y="680"/><use href="#b" x="381.5" y="677.3"/><use href="#b" x="393.9" y="677.3"/><use href="#b" x="406.3" y="677.3"/><use href="#b" x="418.6" y="675.3"/><use href="#b" x="431" y="674.3"/><use href="#b" x="443.4" y="673.3"/><use href="#b" x="455.8" y="673.3"/><use href="#b" x="468.1" y="672.3"/><use href="#b" x="480.5" y="671"/>
<use href="#b" x="84.5" y="706.3"/><use href="#b" x="96.9" y="706.3"/><use href="#b" x="109.3" y="706.3"/><use href="#b" x="121.6" y="706.3"/><use href="#b" x="134" y="706.3"/><use href="#b" x="146.4" y="706.3"/><use href="#b" x="158.8" y="700"/><use href="#b" x="171.1" y="699.3"/><use href="#b" x="183.5" y="699.3"/><use href="#b" x="195.9" y="699.3"/><use href="#b" x="208.3" y="699.3"/><use href="#b" x="220.6" y="699.3"/><use href="#b" x="233" y="699.3"/><use href="#b" x="245.4" y="699.3"/><use href="#b" x="257.8" y="699.3"/><use href="#b" x="270.1" y="699.3"/><use href="#b" x="282.5" y="699.3"/><use href="#b" x="294.9" y="699.3"/><use href="#b" x="307.3" y="698.3"/><use href="#b" x="319.6" y="698.3"/><use href="#b" x="332" y="695.3"/><use href="#b" x="344.4" y="695.3"/><use href="#b" x="356.8" y="695.3"/><use href="#b" x="369.1" y="695.3"/><use href="#b" x="381.5" y="695.3"/><use href="#b" x="393.9" y="695.3"/><use href="#b" x="406.3" y="695.3"/><use href="#b" x="418.6" y="695.3"/><use href="#b" x="431" y="693.3"/><use href="#b" x="443.4" y="693.3"/><use href="#b" x="455.8" y="693.3"/><use href="#b" x="468.1" y="692.3"/><use href="#b" x="480.5" y="692.3"/>
</g>

<!-- Panel 8: zu-ann -->
<g stroke="#000" fill="none" stroke-width="1">
<use href="#t" x="577.5" y="654.3"/><use href="#t" x="590.5" y="654.3"/><use href="#t" x="603.5" y="654.3"/><use href="#t" x="616.5" y="654.3"/><use href="#t" x="629.5" y="654.3"/><use href="#t" x="642.5" y="654.3"/><use href="#t" x="655.5" y="654.3"/><use href="#t" x="668.5" y="654.3"/><use href="#t" x="681.5" y="654.3"/><use href="#t" x="694.5" y="654.3"/><use href="#t" x="707.5" y="654.3"/><use href="#t" x="720.5" y="654.3"/><use href="#t" x="733.5" y="654.3"/><use href="#t" x="746.5" y="654.3"/><use href="#t" x="759.5" y="653.3"/><use href="#t" x="772.5" y="653.3"/><use href="#t" x="785.5" y="653.3"/><use href="#t" x="798.5" y="653.3"/><use href="#t" x="811.5" y="653.3"/><use href="#t" x="824.5" y="653.3"/><use href="#t" x="837.5" y="653.3"/><use href="#t" x="850.5" y="652.3"/><use href="#t" x="863.5" y="652.3"/><use href="#t" x="876.5" y="652.3"/><use href="#t" x="889.5" y="652.3"/><use href="#t" x="902.5" y="652.3"/><use href="#t" x="915.5" y="652.3"/><use href="#t" x="928.5" y="652.3"/><use href="#t" x="941.5" y="652.3"/><use href="#t" x="954.5" y="652.3"/><use href="#t" x="967.5" y="652.3"/><use href="#t" x="980.5" y="652.3"/><use href="#t" x="993.5" y="652.7"/>
<use href="#t" x="577.5" y="656.3"/><use href="#t" x="590.5" y="656.3"/><use href="#t" x="603.5" y="656.3"/><use href="#t" x="616.5" y="656.3"/><use href="#t" x="629.5" y="656.3"/><use href="#t" x="642.5" y="656.3"/><use href="#t" x="655.5" y="656.3"/><use href="#t" x="668.5" y="656.3"/><use href="#t" x="681.5" y="656.3"/><use href="#t" x="694.5" y="656.3"/><use href="#t" x="707.5" y="656.3"/><use href="#t" x="720.5" y="655.5"/><use href="#t" x="733.5" y="655.5"/><use href="#t" x="746.5" y="655.5"/><use href="#t" x="759.5" y="655.7"/><use href="#t" x="772.5" y="655.7"/><use href="#t" x="785.5" y="655.7"/><use href="#t" x="798.5" y="655.7"/><use href="#t" x="811.5" y="655.7"/><use href="#t" x="824.5" y="655.7"/><use href="#t" x="837.5" y="655.7"/><use href="#t" x="850.5" y="655.3"/><use href="#t" x="863.5" y="655.3"/><use href="#t" x="876.5" y="655.3"/><use href="#t" x="889.5" y="655.3"/><use href="#t" x="902.5" y="655.3"/><use href="#t" x="915.5" y="655.3"/><use href="#t" x="928.5" y="655.3"/><use href="#t" x="941.5" y="655.3"/><use href="#t" x="954.5" y="655.3"/><use href="#t" x="967.5" y="655.3"/><use href="#t" x="980.5" y="655.3"/><use href="#t" x="993.5" y="654.3"/>
</g>
</svg>
</body></html>
